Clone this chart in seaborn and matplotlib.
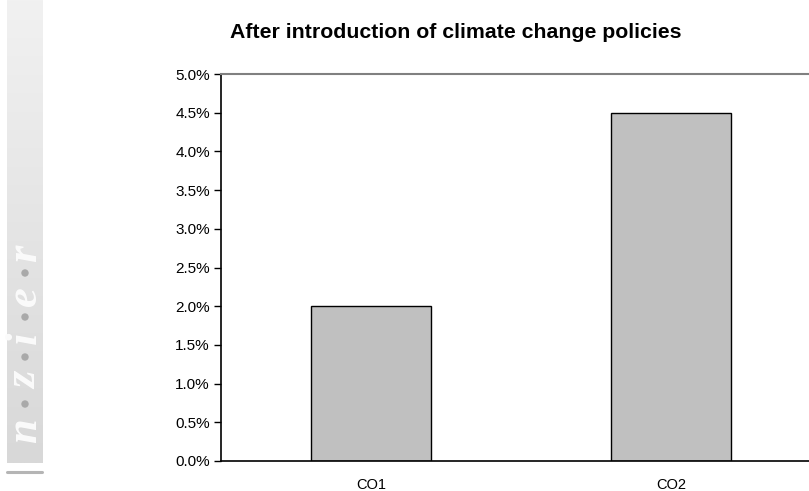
import numpy as np
import matplotlib
matplotlib.use("Agg")
import matplotlib.pyplot as plt
import matplotlib.ticker as mticker
import seaborn as sns
import pandas as pd

categories = ["CO1", "CO2"]
values = [0.020, 0.045]
title = "After introduction of climate change policies"
brand_letters = ["n", "z", "i", "e", "r"]

sns.set_theme(style="white")
plt.rcParams["font.family"] = ["Liberation Sans", "DejaVu Sans"]

W, H = 809, 491
fig = plt.figure(figsize=(W / 100, H / 100), dpi=100)

# side brand strip
strip = fig.add_axes([7 / W, 1 - 463 / H, 35 / W, 463 / H])
grad = np.linspace(0, 1, 256).reshape(-1, 1)
strip.imshow(grad, aspect="auto", cmap=matplotlib.colors.LinearSegmentedColormap.from_list(
    "g", ["#f1f1f1", "#d8d8d8"]), extent=[0, 1, 0, 1], origin="upper")
strip.set_axis_off()
fig.add_artist(plt.Line2D([7 / W, 42 / W], [1 - 472 / H, 1 - 472 / H],
                          color="#b5b5b5", lw=2.2, transform=fig.transFigure))
letter_y = [431, 380, 338, 296, 253]
dot_y = [404, 357, 317, 273]
for ch, yy in zip(brand_letters, letter_y):
    fig.text(25 / W, 1 - yy / H, ch, rotation=90, ha="center", va="center",
             family="Liberation Serif", style="italic", weight="bold",
             fontsize=32, color="#fbfbfb")
for yy in dot_y:
    fig.add_artist(matplotlib.patches.Ellipse((25 / W, 1 - yy / H), 6 / W, 6 / H,
                                              color="#a9a9a9", transform=fig.transFigure))

# main chart
ax = fig.add_axes([221 / W, 1 - 461 / H, 600 / W, 387 / H])
df = pd.DataFrame({"cat": categories, "val": values})
sns.barplot(data=df, x="cat", y="val", ax=ax, color="#c0c0c0", saturation=1,
            edgecolor="black", linewidth=1.0, width=0.4)
ax.set_xlim(-0.5, 1.5)
ax.set_ylim(0, 0.05)
ax.set_yticks(np.arange(0, 0.0501, 0.005))
ax.yaxis.set_major_formatter(mticker.PercentFormatter(xmax=1, decimals=1))
ax.set_xlabel("")
ax.set_ylabel("")
ax.set_xticks([-0.5, 0.5, 1.5], minor=True)
ax.tick_params(axis="x", which="major", length=0, pad=12, labelsize=10.5, colors="black")
ax.tick_params(axis="x", which="minor", length=5, width=1, color="black", direction="out")
ax.tick_params(axis="y", which="major", length=5, width=1, color="black",
               direction="out", left=True, labelsize=11, pad=3, labelcolor="black")
for s in ["left", "bottom"]:
    ax.spines[s].set_color("black")
    ax.spines[s].set_linewidth(1.2)
ax.spines["top"].set_color("#808080")
ax.spines["top"].set_linewidth(1.5)
ax.spines["right"].set_color("#808080")
ax.grid(False)

fig.text(456 / W, 1 - 32 / H, title, ha="center", va="center",
         fontsize=15.3, weight="bold", color="black")

fig.savefig("out.png", dpi=100)
